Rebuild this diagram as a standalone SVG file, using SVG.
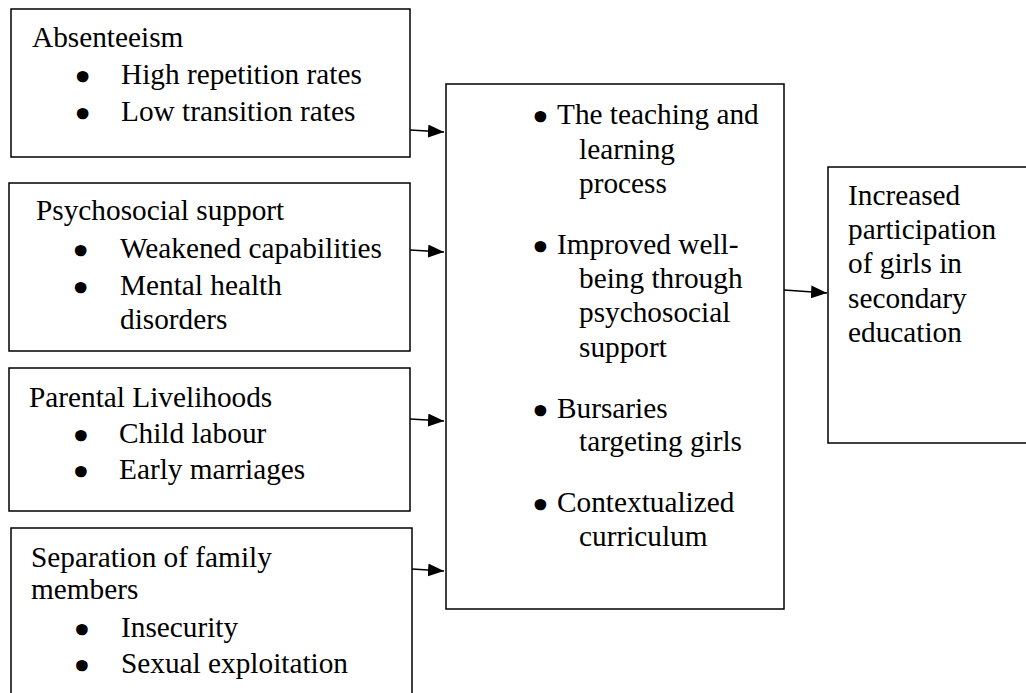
<svg xmlns="http://www.w3.org/2000/svg" width="1026" height="693" viewBox="0 0 1026 693">
<defs>
<style>
.box{fill:#fff;stroke:#000;stroke-width:1.5}
.t{font-family:"Liberation Serif","Times New Roman",serif;font-size:29.3px;fill:#000}
.b{font-family:"DejaVu Sans",sans-serif;font-size:31px;fill:#000;stroke:#000;stroke-width:2.6;text-anchor:middle}
.c{fill:none;stroke:#000;stroke-width:1.5}
</style>
<marker id="ah" markerUnits="userSpaceOnUse" markerWidth="17" markerHeight="14" refX="16" refY="6.5" orient="auto">
<path d="M0,0 L16,6.5 L0,13 z" fill="#000"/>
</marker>
</defs>
<rect width="1026" height="693" fill="#fff"/>
<g id="absenteeism">
<rect class="box" x="11" y="9" width="399" height="148"/>
<text class="t" x="32" y="47">Absenteeism</text>
<text class="b" x="82.7" y="88">•</text>
<text class="t" x="121" y="84">High repetition rates</text>
<text class="b" x="82.7" y="125">•</text>
<text class="t" x="121" y="121">Low transition rates</text>
</g>
<g id="psychosocial">
<rect class="box" x="9" y="183" width="401" height="168"/>
<text class="t" x="36" y="220">Psychosocial support</text>
<text class="b" x="80.7" y="262">•</text>
<text class="t" x="120" y="258">Weakened capabilities</text>
<text class="b" x="80.7" y="299">•</text>
<text class="t" x="120" y="295">Mental health</text>
<text class="t" x="120" y="329">disorders</text>
</g>
<g id="parental">
<rect class="box" x="9" y="368" width="401" height="143"/>
<text class="t" x="29" y="407">Parental Livelihoods</text>
<text class="b" x="81" y="447">•</text>
<text class="t" x="119" y="443">Child labour</text>
<text class="b" x="81" y="483">•</text>
<text class="t" x="119" y="479">Early marriages</text>
</g>
<g id="separation">
<rect class="box" x="11" y="528" width="401" height="180"/>
<text class="t" x="31" y="567">Separation of family</text>
<text class="t" x="31" y="599">members</text>
<text class="b" x="82" y="641">•</text>
<text class="t" x="121" y="637">Insecurity</text>
<text class="b" x="82" y="677">•</text>
<text class="t" x="121" y="673">Sexual exploitation</text>
</g>
<g id="interventions">
<rect class="box" x="446" y="84" width="338" height="525"/>
<text class="b" x="540.5" y="127.5">•</text>
<text class="t" x="557" y="124">The teaching and</text>
<text class="t" x="579" y="159">learning</text>
<text class="t" x="579" y="193">process</text>
<text class="b" x="540.5" y="257.5">•</text>
<text class="t" x="557" y="254">Improved well-</text>
<text class="t" x="579" y="288">being through</text>
<text class="t" x="579" y="322">psychosocial</text>
<text class="t" x="579" y="357">support</text>
<text class="b" x="540.5" y="421.5">•</text>
<text class="t" x="557" y="418">Bursaries</text>
<text class="t" x="579" y="451">targeting girls</text>
<text class="b" x="540.5" y="515.5">•</text>
<text class="t" x="557" y="512">Contextualized</text>
<text class="t" x="579" y="546">curriculum</text>
</g>
<g id="outcome">
<rect class="box" x="828" y="167" width="210" height="276"/>
<text class="t" x="848" y="205">Increased</text>
<text class="t" x="848" y="239">participation</text>
<text class="t" x="848" y="273">of girls in</text>
<text class="t" x="848" y="308">secondary</text>
<text class="t" x="848" y="342">education</text>
</g>
<g id="connectors">
<path class="c" d="M410,130 L444,132" marker-end="url(#ah)"/>
<path class="c" d="M410,250 L444,252" marker-end="url(#ah)"/>
<path class="c" d="M410,419 L444,421" marker-end="url(#ah)"/>
<path class="c" d="M412,569 L444,571" marker-end="url(#ah)"/>
<path class="c" d="M784,290 L827,293" marker-end="url(#ah)"/>
</g>
</svg>
